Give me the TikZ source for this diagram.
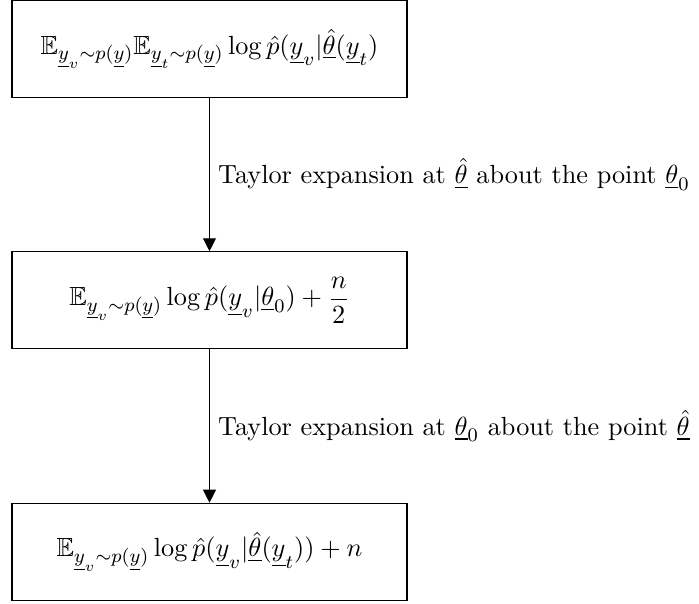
\documentclass[tikz,border=0pt,11pt]{standalone}
\usepackage{amsmath}
\usepackage{amssymb}
\usetikzlibrary{arrows.meta,positioning}
\tikzset{
  stp/.style={rectangle,draw=black,fill=white,minimum width=5.79cm,minimum height=1.42cm,inner sep=2pt,line width=.5pt},
  arr/.style={-{Triangle[length=1.9mm,width=1.9mm]},draw=black,line width=.5pt},
  lb/.style={right,inner sep=3.4pt},
}

\begin{document}
\begin{tikzpicture}
\clip (-3.072,0.715) rectangle (7.178,-8.142);
\node[stp] (s1) at (0,0)
  {$\mathbb{E}_{\underline{y}_v\sim p(\underline{y})}\mathbb{E}_{\underline{y}_t\sim p(\underline{y})}\log\hat{p}(\underline{y}_v|\underline{\hat{\theta}}(\underline{y}_t)$};
\node[stp,below=2.25cm of s1] (s2)
  {$\mathbb{E}_{\underline{y}_v\sim p(\underline{y})}\log\hat{p}(\underline{y}_v|\underline{\theta}_0)+\dfrac{n}{2}$};
\node[stp,below=2.25cm of s2] (s3)
  {$\mathbb{E}_{\underline{y}_v\sim p(\underline{y})}\log\hat{p}(\underline{y}_v|\underline{\hat{\theta}}(\underline{y}_t))+n$};
\draw[arr] (s1) -- node[lb] (t1) {Taylor expansion at $\underline{\hat{\theta}}$ about the point $\underline{\theta}_0$} (s2);
\draw[arr] (s2) -- node[lb] (t2) {Taylor expansion at $\underline{\theta}_0$ about the point $\underline{\hat{\theta}}$} (s3);
\end{tikzpicture}
\end{document}
